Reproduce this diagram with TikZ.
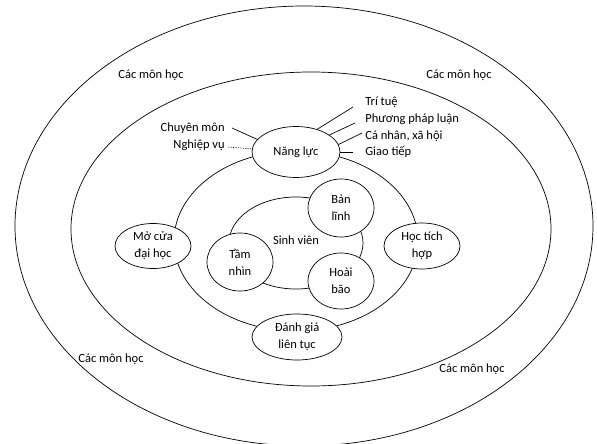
\documentclass[tikz,border=0pt]{standalone}
\usepackage{fontspec}
\setmainfont{Carlito}
\usetikzlibrary{shapes.geometric,calc}
\begin{document}
\begin{tikzpicture}[x=1pt,y=-1pt,line width=0.7pt,
  every node/.style={font=\fontsize{12.5}{17}\selectfont},
  bub/.style={draw, ellipse, fill=white, inner sep=0pt, align=center},
  lab/.style={inner sep=0pt},
  ring/.style={draw, line width=0.7pt}]
\useasboundingbox (0,0) rectangle (597,444);
% rings
\draw[ring] (304,226) ellipse [x radius=289, y radius=220];
\draw[ring] (311,229) ellipse [x radius=240, y radius=157];
\draw[ring] (296,241) ellipse [x radius=122, y radius=90];
\draw[ring] (296,243) ellipse [x radius=67, y radius=46];
% labels of subjects
\node[lab] (m1) at (151,75) {Các môn học};
\node[lab] (m2) at (459,75) {Các môn học};
\node[lab] (m3) at (111,359) {Các môn học};
\node[lab] (m4) at (472,369) {Các môn học};
% nodes on ring
\node[bub, minimum width=88pt, minimum height=51pt] (nl) at (296,152) {Năng lực};
\node[bub, minimum width=76pt, minimum height=45pt] (mc) at (153,246) {Mở cửa\\đại học};
\node[bub, minimum width=76pt, minimum height=46pt] (ht) at (422,246) {Học tích\\hợp};
\node[bub, minimum width=90pt, minimum height=46pt] (dg) at (297,337) {Đánh giá\\liên tục};
% inner
\node[lab] (sv) at (296,240) {Sinh viên};
\node[bub, minimum width=66pt, minimum height=58pt] (bl) at (341,208) {Bản\\lĩnh};
\node[bub, minimum width=66pt, minimum height=56pt] (hb) at (341,281) {Hoài\\bão};
\node[bub, minimum width=66pt, minimum height=58pt] (tn) at (240,262) {Tầm\\nhìn};
% side labels
\node[lab, anchor=east] (cm) at (225,128) {Chuyên môn};
\node[lab, anchor=east] (nv) at (225,145) {Nghiệp vụ};
\node[lab, anchor=west] (tt) at (365,102) {Trí tuệ};
\node[lab, anchor=west] (pp) at (365,119) {Phương pháp luận};
\node[lab, anchor=west] (cn) at (365,136) {Cá nhân, xã hội};
\node[lab, anchor=west] (gt) at (365,152) {Giao tiếp};
% connectors
\draw ($(cm.east)+(7,0)$) -- (nl.162);
\draw[densely dotted] ($(nv.east)+(3,2)$) -- (nl.176);
\draw ($(tt.west)+(-12,5)$) -- (nl.47);
\draw ($(pp.west)+(-10,4)$) -- (nl.27);
\draw ($(cn.west)+(-3,-3)$) -- (nl.10);
\draw (nl.east |- gt.west) -- ($(gt.west)+(-12,0)$);
\end{tikzpicture}
\end{document}
